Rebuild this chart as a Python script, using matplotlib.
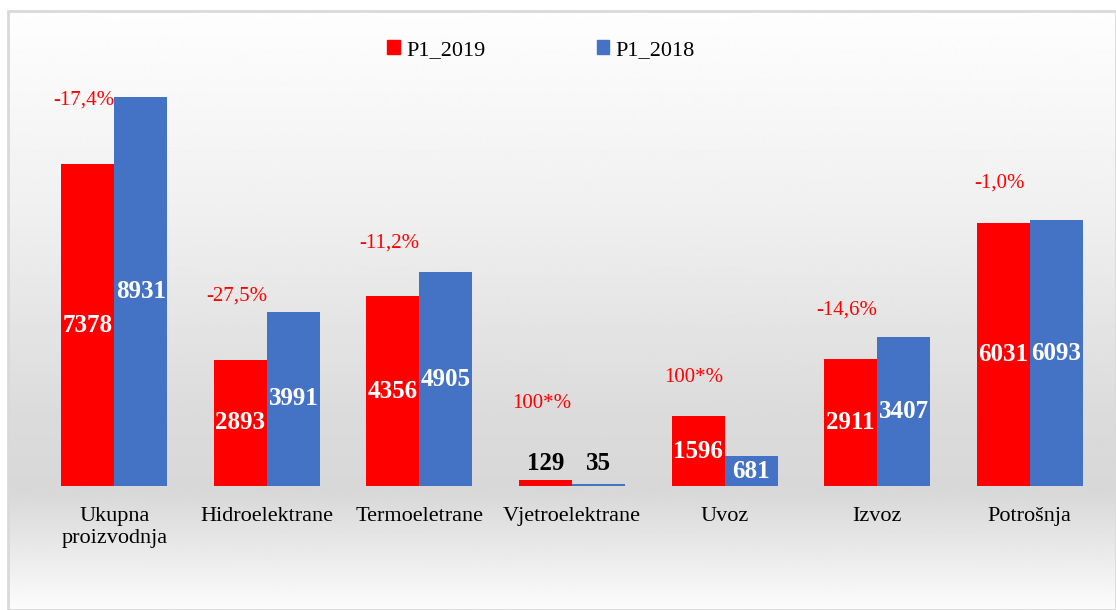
import numpy as np
import matplotlib
matplotlib.use("Agg")
from matplotlib import pyplot as plt
from matplotlib.patches import Patch, Rectangle

plt.rcParams['font.family'] = ['Liberation Serif', 'DejaVu Serif']

# data
categories = ["Ukupna\nproizvodnja", "Hidroelektrane", "Termoeletrane",
              "Vjetroelektrane", "Uvoz", "Izvoz", "Potrošnja"]
p1_2019 = [7378, 2893, 4356, 129, 1596, 2911, 6031]
p1_2018 = [8931, 3991, 4905, 35, 681, 3407, 6093]
changes = ["-17,4%", "-27,5%", "-11,2%", "100*%", "100*%", "-14,6%", "-1,0%"]
# heights (data units) where the change labels sit
change_y = [8850, 4360, 5570, 1900, 2500, 4040, 6950]

red = "#FF0000"
blue = "#4472C4"

fig = plt.figure(figsize=(11.16, 6.10), dpi=100)

# gradient background with a thin grey frame
bg = fig.add_axes([8/1116, 0, 1 - 8/1116, 1 - 11/610])
bg.set_axis_off()
rows = np.arange(600)
shade = np.interp(rows, [0, 200, 400, 480, 540, 600],
                  [0.995, 0.94, 0.86, 0.845, 0.915, 0.99])
img = np.repeat(shade[:, None], 4, axis=1)
bg.imshow(img, cmap="gray", vmin=0, vmax=1, aspect="auto",
          extent=[0, 1, 0, 1], origin="upper")
bg.set_xlim(0, 1)
bg.set_ylim(0, 1)
bg.add_patch(Rectangle((0, 0), 1, 1, fill=False, edgecolor="#d9d9d9",
                       linewidth=2, transform=bg.transAxes, clip_on=False))

ax = fig.add_axes([38/1116, 124/610, 1068/1116, 436/610])
ax.patch.set_alpha(0)
x = np.arange(len(categories))
w = 0.3475

b1 = ax.bar(x - w/2, p1_2019, w, color=red, label="P1_2019")
b2 = ax.bar(x + w/2, p1_2018, w, color=blue, label="P1_2018")

for i in range(len(categories)):
    for xi, v in ((x[i] - w/2, p1_2019[i]), (x[i] + w/2, p1_2018[i])):
        if v > 500:
            ax.text(xi, v/2, str(v), ha="center", va="center", color="white",
                    fontsize=18, fontweight="bold")
        else:
            ax.text(xi, 520, str(v), ha="center", va="center", color="black",
                    fontsize=18, fontweight="bold")
    ax.text(x[i] - 0.2, change_y[i], changes[i], ha="center", va="center",
            color=red, fontsize=15)

ax.set_xlim(-0.5, len(categories) - 0.5)
ax.set_ylim(0, 10000)
ax.set_yticks([])
ax.set_xticks(x)
ax.set_xticklabels(categories, fontsize=16, linespacing=1.25)
ax.tick_params(axis="x", length=0, pad=15)
for s in ax.spines.values():
    s.set_visible(False)

handles = [Patch(color=red), Patch(color=blue)]
fig.legend(handles, ["P1_2019", "P1_2018"], loc="center",
           bbox_to_anchor=(541/1116, 1 - 50/610), ncol=2, frameon=False,
           fontsize=16, handlelength=0.55, handleheight=0.55,
           handletextpad=0.3, columnspacing=5.0)

fig.savefig("out.png", dpi=100)
